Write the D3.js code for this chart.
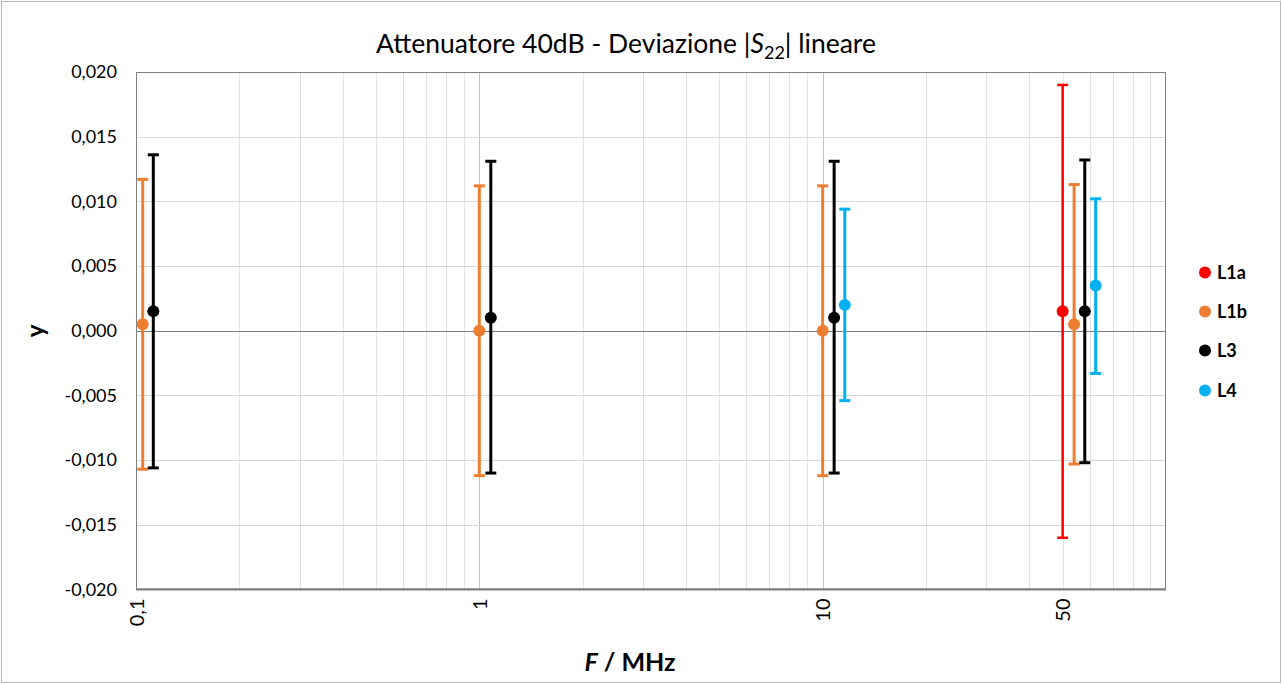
<!DOCTYPE html>
<html>
<head>
<meta charset="utf-8">
<script src="https://cdn.jsdelivr.net/npm/d3@7"></script>
<style>
  html, body { margin: 0; padding: 0; background: #fff; }
  svg { display: block; font-family: Lato, "Open Sans", sans-serif; }
</style>
</head>
<body>
<svg id="chart" width="1282" height="684"></svg>
<script>
// ---- data ----
const seriesNames = ["L1a", "L1b", "L3", "L4"];
const seriesColors = ["#FF0000", "#ED7D31", "#000000", "#00B0F0"];

const L1a_f = [50];
const L1a_y = [0.0015];
const L1a_hi = [0.0190];
const L1a_lo = [-0.0160];

const L1b_f = [0.1046, 1, 10, 54];
const L1b_y = [0.0005, 0.0000, 0.0000, 0.0005];
const L1b_hi = [0.0117, 0.0112, 0.0112, 0.0113];
const L1b_lo = [-0.0107, -0.0112, -0.0112, -0.0103];

const L3_f = [0.1123, 1.08, 10.8, 58];
const L3_y = [0.0015, 0.0010, 0.0010, 0.0015];
const L3_hi = [0.0136, 0.0131, 0.0131, 0.0132];
const L3_lo = [-0.0106, -0.0110, -0.0110, -0.0102];

const L4_f = [11.6, 62.4];
const L4_y = [0.0020, 0.0035];
const L4_hi = [0.0094, 0.0102];
const L4_lo = [-0.0054, -0.0033];

const yTicks = [-0.020, -0.015, -0.010, -0.005, 0.000, 0.005, 0.010, 0.015, 0.020];
const xTickValues = [0.1, 1, 10, 50];
const xTickLabels = ["0,1", "1", "10", "50"];

// ---- build series table ----
function mk(f, y, hi, lo) { return f.map((d, i) => ({ f: d, y: y[i], hi: hi[i], lo: lo[i] })); }
const series = [
  mk(L1a_f, L1a_y, L1a_hi, L1a_lo),
  mk(L1b_f, L1b_y, L1b_hi, L1b_lo),
  mk(L3_f, L3_y, L3_hi, L3_lo),
  mk(L4_f, L4_y, L4_hi, L4_lo)
];
const barWidths = [2.5, 3, 3, 3];

// ---- layout ----
const svg = d3.select("#chart");
const pL = 136, pR = 1166, pT = 72, pB = 589.5;

const x = d3.scaleLog().domain([0.1, 100]).range([pL, pR]);
const y = d3.scaleLinear().domain([-0.02, 0.02]).range([pB, pT]);

// outer border
svg.append("rect").attr("x", 1.5).attr("y", 1.5).attr("width", 1279).attr("height", 681)
  .attr("fill", "#fff").attr("stroke", "#b8b8b8").attr("stroke-width", 1);

// vertical gridlines (log minor/major)
const allX = x.ticks().filter(v => v > 0.1 + 1e-9 && v < 100 - 1e-9);
const isMajor = v => Math.abs(Math.log10(v) - Math.round(Math.log10(v))) < 1e-6;
svg.append("g").selectAll("line").data(allX).join("line")
  .attr("x1", d => Math.round(x(d)) + 0.5).attr("x2", d => Math.round(x(d)) + 0.5)
  .attr("y1", pT).attr("y2", pB)
  .attr("stroke", d => isMajor(d) ? "#c4c4c4" : "#e2e2e2").attr("stroke-width", 1);

// horizontal gridlines
svg.append("g").selectAll("line").data(yTicks.filter(v => v !== 0 && Math.abs(v) < 0.02)).join("line")
  .attr("x1", pL).attr("x2", pR)
  .attr("y1", d => Math.round(y(d)) + 0.5).attr("y2", d => Math.round(y(d)) + 0.5)
  .attr("stroke", "#d9d9d9").attr("stroke-width", 1);

// zero line
svg.append("line").attr("x1", pL).attr("x2", pR)
  .attr("y1", Math.round(y(0)) + 0.5).attr("y2", Math.round(y(0)) + 0.5)
  .attr("stroke", "#7f7f7f").attr("stroke-width", 1);

// plot border
svg.append("rect").attr("x", pL + 0.5).attr("y", pT + 0.5)
  .attr("width", pR - pL - 1).attr("height", pB - pT - 1)
  .attr("fill", "none").attr("stroke", "#7f7f7f").attr("stroke-width", 1);
svg.append("line").attr("x1", pL).attr("x2", pR).attr("y1", pB).attr("y2", pB)
  .attr("stroke", "#7f7f7f").attr("stroke-width", 2);

// y axis
const yAxis = d3.axisLeft(y).tickValues(yTicks).tickSize(0).tickPadding(19)
  .tickFormat(d => d3.format(".3f")(d).replace("−", "-").replace(".", ","));
const gy = svg.append("g").attr("transform", `translate(${pL},0)`).call(yAxis);
gy.select(".domain").remove();
gy.selectAll("text").attr("font-family", "Lato, sans-serif").attr("font-size", 18).attr("fill", "#000");

// x axis
const xAxis = d3.axisBottom(x).tickValues(xTickValues).tickSize(0)
  .tickFormat((d, i) => xTickLabels[i]);
const gx = svg.append("g").attr("transform", `translate(0,${pB})`).call(xAxis);
gx.select(".domain").remove();
gx.selectAll("text")
  .attr("font-family", "Lato, sans-serif").attr("font-size", 20).attr("fill", "#000")
  .attr("transform", "rotate(-90)")
  .attr("text-anchor", "end").attr("dy", "0.35em").attr("x", -9).attr("y", 0);

// error bars
const cap = 5.5;
series.forEach((s, si) => {
  const g = svg.append("g").attr("stroke", seriesColors[si]).attr("stroke-width", barWidths[si]);
  g.selectAll("line.v").data(s).join("line").attr("class", "v")
    .attr("x1", d => x(d.f)).attr("x2", d => x(d.f))
    .attr("y1", d => y(d.hi)).attr("y2", d => y(d.lo));
  g.selectAll("line.t").data(s).join("line").attr("class", "t")
    .attr("x1", d => x(d.f) - cap).attr("x2", d => x(d.f) + cap)
    .attr("y1", d => y(d.hi)).attr("y2", d => y(d.hi));
  g.selectAll("line.b").data(s).join("line").attr("class", "b")
    .attr("x1", d => x(d.f) - cap).attr("x2", d => x(d.f) + cap)
    .attr("y1", d => y(d.lo)).attr("y2", d => y(d.lo));
});
// markers
series.forEach((s, si) => {
  svg.append("g").selectAll("circle").data(s).join("circle")
    .attr("cx", d => x(d.f)).attr("cy", d => y(d.y)).attr("r", 6)
    .attr("fill", seriesColors[si]);
});

// title
const title = svg.append("text").attr("x", 626).attr("y", 53).attr("text-anchor", "middle")
  .attr("font-family", "Lato, sans-serif").attr("font-size", 26.5).attr("fill", "#000");
title.append("tspan").text("Attenuatore 40dB - Deviazione |");
title.append("tspan").attr("font-style", "italic").text("S");
title.append("tspan").attr("font-size", 18).attr("dy", 6).text("22");
title.append("tspan").attr("dy", -6).text("| lineare");

// axis titles
svg.append("text").attr("transform", "translate(44,331) rotate(-90)")
  .attr("text-anchor", "middle").attr("font-family", "Lato, sans-serif")
  .attr("font-size", 24).attr("font-weight", "bold").text("y");

const xt = svg.append("text").attr("x", 630).attr("y", 671).attr("text-anchor", "middle")
  .attr("font-family", "Lato, sans-serif").attr("font-size", 25).attr("font-weight", "bold");
xt.append("tspan").attr("font-style", "italic").text("F");
xt.append("tspan").text(" / MHz");

// legend
const lg = svg.append("g");
const legY = [272.5, 311.5, 350.5, 390.5];
seriesNames.forEach((n, i) => {
  lg.append("circle").attr("cx", 1205).attr("cy", legY[i]).attr("r", 6).attr("fill", seriesColors[i]);
  lg.append("text").attr("x", 1217).attr("y", legY[i]).attr("dy", "0.35em")
    .attr("font-family", "Lato, sans-serif").attr("font-size", 18).attr("font-weight", "bold")
    .text(n);
});
</script>
</body>
</html>
